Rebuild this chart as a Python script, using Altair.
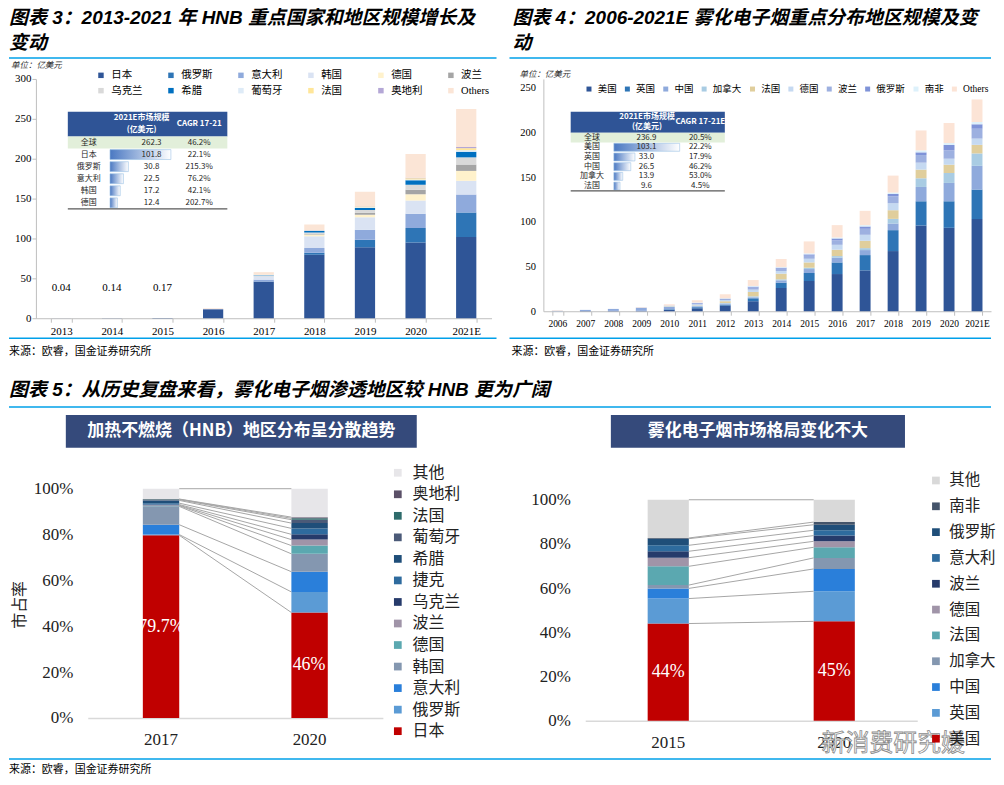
import altair as alt
import pandas as pd

SERIF = 'Liberation Serif, Noto Sans CJK SC'
CJK = 'Noto Sans CJK SC'
HEADF = 'Liberation Sans Narrow, Liberation Sans, Noto Sans CJK SC'
BLUE_LINE = '#00A0E9'
HEAD_BLUE = '#2F5496'

# ---------------- 图表3 data ----------------
F3_YEARS = ['2013', '2014', '2015', '2016', '2017', '2018', '2019', '2020', '2021E']
F3_SERIES = ['日本', '俄罗斯', '意大利', '韩国', '德国', '波兰', '乌克兰', '希腊', '葡萄牙', '法国', '奥地利', 'Others']
F3_COLORS = ['#2F5597', '#2E75B6', '#8FAADC', '#DAE3F3', '#FFF2CC', '#A5A5A5', '#D9D9D9', '#0070C0', '#DEEBF7', '#FFE699', '#B4A7D6', '#FBE5D6']
F3_VALUES = {
    '日本':   [0.04, 0.14, 0.17, 11.3, 45.8, 79.6, 89.0, 95.0, 101.8],
    '俄罗斯': [0, 0, 0, 0, 0.3, 2.5, 9.3, 18.0, 30.8],
    '意大利': [0, 0, 0, 0, 2.3, 5.8, 12.7, 18.0, 22.5],
    '韩国':   [0, 0, 0, 0.4, 4.2, 15.0, 15.7, 16.5, 17.2],
    '德国':   [0, 0, 0, 0, 0.15, 2.0, 3.0, 8.0, 12.4],
    '波兰':   [0, 0, 0, 0, 0.3, 1.0, 2.5, 5.5, 8.0],
    '乌克兰': [0, 0, 0, 0, 0.3, 1.5, 3.5, 6.5, 9.0],
    '希腊':   [0, 0, 0, 0, 0.5, 2.0, 2.5, 5.5, 7.0],
    '葡萄牙': [0, 0, 0, 0, 0.5, 0.5, 1.0, 1.0, 2.0],
    '法国':   [0, 0, 0, 0, 0.3, 0.5, 0.8, 1.5, 2.5],
    '奥地利': [0, 0, 0, 0, 0.1, 0.2, 0.3, 0.5, 1.5],
    'Others': [0, 0, 0, 0.8, 3.0, 6.9, 18.2, 30.0, 47.6],
}
F3_SMALL_YEARS = ['2013', '2014', '2015']
F3_SMALL_LABELS = ['0.04', '0.14', '0.17']
T3_NAMES = ['全球', '日本', '俄罗斯', '意大利', '韩国', '德国']
T3_SIZE = [262.3, 101.8, 30.8, 22.5, 17.2, 12.4]
T3_CAGR = ['46.2%', '22.1%', '215.3%', '76.2%', '42.1%', '202.7%']

# ---------------- 图表4 data ----------------
F4_YEARS = ['2006', '2007', '2008', '2009', '2010', '2011', '2012', '2013', '2014', '2015',
            '2016', '2017', '2018', '2019', '2020', '2021E']
F4_SERIES = ['美国', '英国', '中国', '加拿大', '法国', '德国', '波兰', '俄罗斯', '南非', 'Others']
F4_COLORS = ['#2F5597', '#2E75B6', '#8FAADC', '#A9CCE3', '#E0CE9C', '#C5D9F1', '#9DB0E0', '#7F93D8', '#DDF1FB', '#FCE4D6']
F4_VALUES = {
    '美国':   [0.1, 0.3, 0.4, 0.5, 1.5, 3.3, 6.3, 11.2, 26.0, 33.8, 41.6, 45.7, 67.3, 95.9, 93.3, 103.1],
    '英国':   [0, 0, 0, 0, 0.7, 1.2, 1.1, 3.3, 6.0, 9.0, 13.0, 17.1, 23.4, 27.1, 29.7, 33.0],
    '中国':   [0.5, 1.2, 2.2, 3.5, 2.6, 1.1, 1.1, 1.1, 2.6, 4.4, 5.3, 5.6, 7.4, 16.0, 20.5, 26.5],
    '加拿大': [0, 0, 0, 0, 0.4, 0.7, 0.8, 1.1, 1.1, 1.5, 1.8, 2.2, 5.2, 9.7, 11.1, 13.9],
    '法国':   [0, 0, 0, 0, 0.4, 0.4, 1.9, 4.9, 6.3, 5.9, 7.1, 8.2, 9.7, 9.7, 9.3, 9.6],
    '德国':   [0, 0, 0, 0, 0.3, 1.1, 1.4, 2.6, 3.0, 4.1, 5.5, 6.7, 7.8, 7.8, 6.7, 7.0],
    '波兰':   [0, 0, 0, 0, 0.4, 0.8, 1.2, 2.2, 2.6, 3.4, 4.9, 6.7, 7.8, 8.5, 9.4, 11.0],
    '俄罗斯': [0, 0, 0, 0, 0, 0.7, 0.3, 1.1, 1.1, 1.5, 2.2, 2.6, 2.6, 3.0, 5.9, 5.0],
    '南非':   [0, 0, 0, 0, 0, 0.4, 0.4, 0.8, 0.7, 1.1, 1.1, 1.5, 1.5, 2.2, 2.2, 2.5],
    'Others': [0.6, 0, 0, 0.5, 1.5, 2.6, 4.5, 6.6, 9.0, 13.4, 13.8, 16.0, 19.0, 22.3, 22.4, 25.3],
}
T4_NAMES = ['全球', '美国', '英国', '中国', '加拿大', '法国']
T4_SIZE = [236.9, 103.1, 33.0, 26.5, 13.9, 9.6]
T4_CAGR = ['20.5%', '22.2%', '17.9%', '46.2%', '53.0%', '4.5%']

# ---------------- 图表5 data ----------------
H5_YEARS = ['2017', '2020']
H5_SERIES = ['日本', '俄罗斯', '意大利', '韩国', '德国', '波兰', '乌克兰', '捷克', '希腊', '葡萄牙', '法国', '奥地利', '其他']
H5_COLORS = ['#C00000', '#5B9BD5', '#2A7FDA', '#8497B0', '#5BA8B0', '#A094A8', '#263B6B', '#2E6B9E', '#1F4E79', '#4B5A78', '#2E6B6B', '#5B5068', '#E7E6E9']
H5_VALUES = {
    '日本': [79.7, 46.0], '俄罗斯': [0.3, 9.0], '意大利': [4.3, 8.8], '韩国': [8.0, 7.8],
    '德国': [0.3, 3.6], '波兰': [0.2, 2.6], '乌克兰': [0.3, 2.3], '捷克': [0.6, 2.6],
    '希腊': [1.2, 2.3], '葡萄牙': [0.3, 1.5], '法国': [0.2, 0.6], '奥地利': [0.1, 0.5],
    '其他': [4.5, 12.4],
}
V5_YEARS = ['2015', '2020']
V5_SERIES = ['美国', '英国', '中国', '加拿大', '法国', '德国', '波兰', '意大利', '俄罗斯', '南非', '其他']
V5_COLORS = ['#C00000', '#5B9BD5', '#2A7FDA', '#8497B0', '#5BA8B0', '#A094A8', '#263B6B', '#2E6B9E', '#1F4E79', '#44546A', '#D9D9D9']
V5_VALUES = {
    '美国': [44.0, 45.0], '英国': [11.3, 13.6], '中国': [4.6, 10.1], '加拿大': [1.5, 5.0],
    '法国': [8.5, 4.8], '德国': [3.9, 2.7], '波兰': [2.9, 2.6], '意大利': [2.7, 2.4],
    '俄罗斯': [3.0, 2.5], '南非': [0.3, 1.2], '其他': [17.3, 10.1],
}

ONE = pd.DataFrame({'k': [0]})


def long_df(years, series, values):
    rows = []
    for k, s in enumerate(series):
        for i, y in enumerate(years):
            rows.append({'year': y, 'country': s, 'value': values[s][i], 'idx': k})
    return pd.DataFrame(rows)


def txt(t, x, y, size, color='#000', font=CJK, weight='normal', style='normal', align='left', **kw):
    return alt.Chart(pd.DataFrame({'t': [t]})).mark_text(
        align=align, baseline='middle', fontSize=size, font=font, fontWeight=weight,
        fontStyle=style, color=color, **kw).encode(x=alt.value(x), y=alt.value(y), text='t:N')


def hrule(x1, x2, y, color=BLUE_LINE, w=1.5):
    return alt.Chart(ONE).mark_rule(color=color, strokeWidth=w).encode(
        x=alt.value(x1), x2=alt.value(x2), y=alt.value(y))


def box(x1, x2, y1, y2, color):
    return alt.Chart(ONE).mark_rect(color=color).encode(
        x=alt.value(x1), x2=alt.value(x2), y=alt.value(y1), y2=alt.value(y2))


def table_layers(names, sizes, cagr, g):
    df = pd.DataFrame({'name': names, 'size': sizes, 'cagr': cagr})
    df['size_label'] = [f'{v:.1f}' for v in sizes]
    rng = [g['row_top'], g['row_bot']]
    ys_full = alt.Scale(domain=names, range=rng, paddingInner=0, paddingOuter=0)
    ys_bar = alt.Scale(domain=names, range=rng, paddingInner=0.18, paddingOuter=0.09)
    layers = [box(g['l'], g['r'], g['h_top'], g['row_top'], HEAD_BLUE)]
    layers.append(alt.Chart(df).transform_filter(alt.datum.name == names[0]).mark_rect(color='#E2EFDA').encode(
        x=alt.value(g['l']), x2=alt.value(g['r']), y=alt.Y('name:N', scale=ys_full, axis=None)))
    grad = {'gradient': 'linear', 'x1': 0, 'y1': 0, 'x2': 1, 'y2': 0,
            'stops': [{'offset': 0, 'color': '#4A78C2'}, {'offset': 1, 'color': '#FFFFFF'}]}
    layers.append(alt.Chart(df).transform_filter(alt.datum.name != names[0]).mark_bar(
        color=grad, stroke='#9DC3E6', strokeWidth=0.6).encode(
        x=alt.X('size:Q', scale=alt.Scale(domain=[0, max(sizes[1:])], range=[g['bx0'], g['bx1']], nice=False), axis=None),
        y=alt.Y('name:N', scale=ys_bar, axis=None)))
    for field, cx in [('name', g['cx_name']), ('size_label', g['cx_val']), ('cagr', g['cx_cagr'])]:
        layers.append(alt.Chart(df).mark_text(fontSize=8, font=CJK, color='#262626', baseline='middle').encode(
            x=alt.value(cx), y=alt.Y('name:N', scale=ys_full, axis=None), text=f'{field}:N'))
    layers.append(txt('2021E市场规模', g['cx_h1'], g['h1y'], 8, color='white', weight='bold', align='center'))
    layers.append(txt('(亿美元)', g['cx_h1'], g['h2y'], 8, color='white', weight='bold', align='center'))
    layers.append(txt(g['cagr_title'], g['cx_cagr'], g['hcy'], 8, color='white', weight='bold', align='center'))
    layers.append(hrule(g['l'], g['r'], g['row_bot'], color='#595959', w=1.2))
    return layers


# ---------------- Chart 3 ----------------
W3, H3 = 457, 240
xs3 = alt.Scale(domain=F3_YEARS, paddingInner=0.6, paddingOuter=0.3)
ys3 = alt.Scale(domain=[0, 300], nice=False)
df3 = long_df(F3_YEARS, F3_SERIES, F3_VALUES)
bars3 = alt.Chart(df3).mark_bar().encode(
    x=alt.X('year:N', scale=xs3, sort=F3_YEARS, axis=alt.Axis(
        title=None, labelAngle=0, tickBand='extent', tickSize=4, tickColor='#BFBFBF', domainColor='#BFBFBF',
        labelFont=SERIF, labelFontSize=11, labelColor='#000', labelPadding=3)),
    y=alt.Y('value:Q', stack='zero', scale=ys3, axis=alt.Axis(
        title=None, values=[0, 50, 100, 150, 200, 250, 300], grid=False, tickSize=4, tickColor='#BFBFBF',
        domainColor='#BFBFBF', labelFont=SERIF, labelFontSize=11, labelColor='#000', labelPadding=1)),
    color=alt.Color('country:N', scale=alt.Scale(domain=F3_SERIES, range=F3_COLORS), legend=alt.Legend(
        title=None, orient='none', legendX=60, legendY=-9, direction='horizontal', columns=6, gridAlign='all',
        columnPadding=23.2, rowPadding=4.5, symbolType='square', symbolSize=30, symbolStrokeWidth=0,
        labelFont=SERIF, labelFontSize=10.5, labelColor='#000', labelOffset=5, padding=0)),
    order=alt.Order('idx:Q', sort='ascending'),
)
small3 = alt.Chart(pd.DataFrame({'year': F3_SMALL_YEARS, 'label': F3_SMALL_LABELS})).mark_text(
    font=SERIF, fontSize=11, color='#000').encode(
    x=alt.X('year:N', scale=xs3, axis=None), y=alt.value(210), text='label:N')
g3 = dict(l=32, r=192, h_top=33, row_top=57.7, row_bot=130.3, bx0=74.3, bx1=135.4,
          cx_name=53, cx_val=116, cx_cagr=163.7, cx_h1=106, h1y=39.3, h2y=51, hcy=45.3, cagr_title='CAGR 17-21')
furn3 = [
    txt('图表 3：2013-2021 年 HNB 重点国家和地区规模增长及', -27, -61, 19, font=HEADF, weight='bold', style='italic'),
    txt('变动', -27, -36, 19, font=HEADF, weight='bold', style='italic'),
    hrule(-27, 462, -21),
    txt('单位：亿美元', -25, -14, 8.5, color='#333', style='italic'),
    hrule(-27, 462, 260),
    txt('来源：欧睿，国金证券研究所', -27, 274, 11),
]
c3 = alt.layer(bars3, small3, *table_layers(T3_NAMES, T3_SIZE, T3_CAGR, g3), *furn3).resolve_scale(
    x='independent', y='independent').properties(width=W3, height=H3)

# ---------------- Chart 4 ----------------
# plot area top aligned with chart 3; domain extends slightly above 250 so that 250 sits at the reference height
W4, H4 = 449, 233
D4 = 259.8
xs4 = alt.Scale(domain=F4_YEARS, paddingInner=0.61, paddingOuter=0.305)
ys4 = alt.Scale(domain=[0, D4], nice=False)
df4 = long_df(F4_YEARS, F4_SERIES, F4_VALUES)
bars4 = alt.Chart(df4).mark_bar().encode(
    x=alt.X('year:N', scale=xs4, sort=F4_YEARS, axis=alt.Axis(
        title=None, labelAngle=0, tickBand='extent', tickSize=4, tickColor='#BFBFBF', domainColor='#BFBFBF',
        labelFont=SERIF, labelFontSize=9.5, labelColor='#000', labelPadding=3)),
    y=alt.Y('value:Q', stack='zero', scale=ys4, axis=alt.Axis(
        title=None, values=[0, 50, 100, 150, 200, 250], grid=False, ticks=False, tickSize=0,
        domainColor='#BFBFBF', labelFont=SERIF, labelFontSize=10.5, labelColor='#000', labelPadding=8)),
    color=alt.Color('country:N', scale=alt.Scale(domain=F4_SERIES, range=F4_COLORS), legend=alt.Legend(
        title=None, orient='none', legendX=41, legendY=5, direction='horizontal', columns=10, gridAlign='each',
        columnPadding=5.5, symbolType='square', symbolSize=25, symbolStrokeWidth=0,
        labelFont=SERIF, labelFontSize=9.5, labelColor='#000', labelOffset=4, padding=0)),
    order=alt.Order('idx:Q', sort='ascending'),
)
g4 = dict(l=27.4, r=182, h_top=33, row_top=54, row_bot=112.3, bx0=70.7, bx1=136.7,
          cx_name=48.7, cx_val=103.4, cx_cagr=157.4, cx_h1=104, h1y=38, h2y=48, hcy=43, cagr_title='CAGR 17-21E')
furn4 = [
    txt('图表 4：2006-2021E 雾化电子烟重点分布地区规模及变', -31, -61, 19, font=HEADF, weight='bold', style='italic'),
    txt('动', -31, -36, 19, font=HEADF, weight='bold', style='italic'),
    hrule(-34, 449, -21),
    txt('单位：亿美元', -24, -5, 8.5, color='#333', style='italic'),
    hrule(-34, 449, 260),
    txt('来源：欧睿，国金证券研究所', -32, 274, 11),
]
c4 = alt.layer(bars4, *table_layers(T4_NAMES, T4_SIZE, T4_CAGR, g4), *furn4).resolve_scale(
    x='independent', y='independent').properties(width=W4, height=H4)


# ---------------- Share charts ----------------
def share_chart(years, series, colors, values, W, H, ytop, pi, po, legend_kw, extra, ytitle=None, title_kw=None):
    df = long_df(years, series, values)
    step = W / (2 - pi + 2 * po)
    bw = step * (1 - pi)
    s0 = po * step
    xs = alt.Scale(domain=years, paddingInner=pi, paddingOuter=po)
    ys = alt.Scale(domain=[0, ytop], nice=False)
    order_legend = list(reversed(series))
    cmap = dict(zip(series, colors))
    yaxis_kw = dict(values=[0, 20, 40, 60, 80, 100], labelExpr="datum.value + '%'", domain=False, ticks=False,
                    tickSize=0, grid=False, labelFont=SERIF, labelFontSize=17, labelColor='#222', labelPadding=15)
    if ytitle:
        yaxis_kw.update(title=ytitle, titleFont=CJK, titleFontSize=16, titleFontWeight='normal', titleColor='#222',
                        titleX=-68, titleY=116, titleAlign='center', titleBaseline='middle', titleAngle=270)
    else:
        yaxis_kw.update(title=None)
    bars = alt.Chart(df).mark_bar().encode(
        x=alt.X('year:N', scale=xs, sort=years, axis=alt.Axis(
            title=None, labelAngle=0, ticks=False, domainColor='#D9D9D9', domainWidth=1.5,
            labelFont=SERIF, labelFontSize=17, labelColor='#222', labelPadding=14)),
        y=alt.Y('value:Q', stack='zero', scale=ys, axis=alt.Axis(**yaxis_kw)),
        color=alt.Color('country:N', scale=alt.Scale(domain=order_legend, range=[cmap[c] for c in order_legend]),
                        legend=alt.Legend(title=None, orient='none', symbolType='square', symbolSize=60,
                                          symbolStrokeWidth=0, labelFont=CJK, labelColor='#222',
                                          padding=0, **legend_kw)),
        order=alt.Order('idx:Q', sort='ascending'),
    )
    lines = alt.Chart(df).transform_window(
        cum='sum(value)', groupby=['year'], sort=[alt.SortField('idx', order='ascending')], frame=[None, 0]
    ).mark_line(color='#A6A6A6', strokeWidth=1).encode(
        x=alt.X('year:N', scale=alt.Scale(type='point', domain=years, range=[s0 + bw, s0 + step], padding=0), axis=None),
        y=alt.Y('cum:Q', scale=ys, axis=None),
        detail='country:N')
    labels = alt.Chart(df).transform_filter(alt.datum.idx == 0).transform_calculate(
        mid='datum.value / 2', lab="datum.value + '%'").mark_text(
        font=SERIF, fontSize=18, color='white').encode(
        x=alt.X('year:N', scale=xs, axis=None), y=alt.Y('mid:Q', scale=ys, axis=None), text='lab:N')
    tk = title_kw
    layers = [bars, lines, labels,
              box(tk['x1'], tk['x2'], tk['y1'], tk['y2'], '#354A7B'),
              txt(tk['text'], (tk['x1'] + tk['x2']) / 2, (tk['y1'] + tk['y2']) / 2, 17, color='white',
                  weight='bold', align='center')] + extra
    return alt.layer(*layers).resolve_scale(x='independent', y='independent').properties(width=W, height=H)


furn5a = [
    txt('图表 5：从历史复盘来看，雾化电子烟渗透地区较 HNB 更为广阔', -79, -99, 19, font=HEADF, weight='bold', style='italic'),
    hrule(-79, 906, -82),
    hrule(-79, 906, 271),
    txt('来源：欧睿，国金证券研究所', -79, 282, 11),
]
c5a = share_chart(H5_YEARS, H5_SERIES, H5_COLORS, H5_VALUES, 296, 230, 100, 0.755, 0.3708,
                  dict(legendX=303, legendY=-24, rowPadding=5.6, labelOffset=6.7, labelFontSize=16), furn5a,
                  ytitle='市占率',
                  title_kw=dict(x1=-22, x2=330, y1=-74, y2=-41, text='加热不燃烧（HNB）地区分布呈分散趋势'))

furn5b = [
    txt('新消费研究媛', 309, 256, 24, color='white', align='center', stroke='#8C8C8C', strokeWidth=0.8),
]
c5b = share_chart(V5_YEARS, V5_SERIES, V5_COLORS, V5_VALUES, 333, 232.8, 105, 0.752, 0.376,
                  dict(legendX=344, legendY=-16, rowPadding=8.9, labelOffset=5.6, labelFontSize=15.5), furn5b,
                  title_kw=dict(x1=25.7, x2=320.7, y1=-74, y2=-41, text='雾化电子烟市场格局变化不大'))

spacer = alt.Chart(ONE).mark_point(opacity=0).encode(x=alt.value(0), y=alt.value(0)).properties(width=1, height=1)

row1 = alt.hconcat(c3, c4, spacing=52, bounds='flush').resolve_scale(color='independent')
inner2 = alt.hconcat(c5a, c5b, spacing=203, bounds='flush').resolve_scale(color='independent')
row2 = alt.hconcat(spacer, inner2, spacing=51, bounds='flush').resolve_scale(color='independent')

chart = alt.vconcat(row1, row2, spacing=411, bounds='flush').resolve_scale(color='independent').properties(
    padding=0, background='white').configure_view(strokeWidth=0)

chart.save("out.html", embed_options={"renderer": "svg", "actions": False})
